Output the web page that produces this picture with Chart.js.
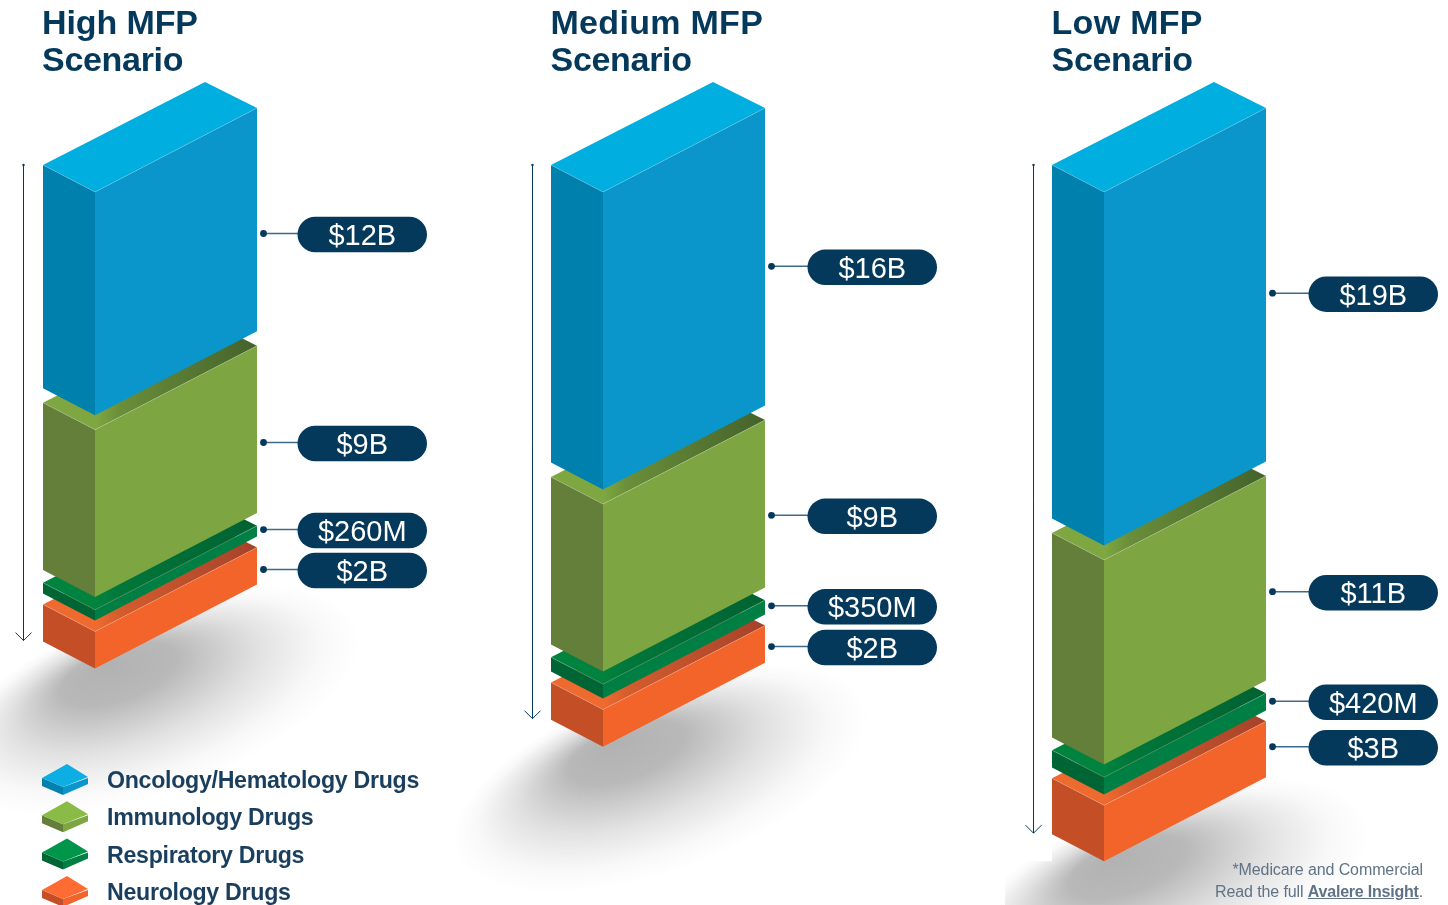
<!DOCTYPE html>
<html lang="en">
<head>
<meta charset="utf-8">
<title>MFP scenarios by drug class</title>
<script src="https://cdn.jsdelivr.net/npm/chart.js@4/dist/chart.umd.js"></script>
<style>
  html, body { margin: 0; padding: 0; background: #fff; overflow: hidden; }
  #stage { position: relative; width: 1448px; height: 905px; }
  canvas { position: absolute; left: 0; top: 0; }
  #note {
    position: absolute; right: 25px; top: 859px; text-align: right;
    font: 16px/21.5px "Liberation Sans", sans-serif; letter-spacing: -0.1px; color: #5f7386;
  }
  #note b { text-decoration: underline; letter-spacing: -0.22px; }
</style>
</head>
<body>
<div id="stage">
  <canvas id="chart" width="1448" height="905"></canvas>
  <div id="note">*Medicare and Commercial<br>Read the full <b>Avalere Insight</b>.</div>
</div>
<script>
// Spend per scenario, in $ billions
const scenarios   = ['High MFP', 'Medium MFP', 'Low MFP'];
const oncology    = [12, 16, 19];
const immunology  = [9, 9, 11];
const respiratory = [0.26, 0.35, 0.42];
const neurology   = [2, 2, 3];

// Callout text per scenario
const oncologyLabels    = ['$12B', '$16B', '$19B'];
const immunologyLabels  = ['$9B', '$9B', '$11B'];
const respiratoryLabels = ['$260M', '$350M', '$420M'];
const neurologyLabels   = ['$2B', '$2B', '$3B'];

// Layout of the blocks
const PX_PER_BILLION = 18.6;
const SIDE_W = 52, SIDE_DROP = 27, FRONT_W = 162, FRONT_RISE = 84;
const COLUMN_NUDGE = [0, 3.5, 0];      // middle column sits slightly off the even spacing
const GAP_BEFORE = [0, 0.78, 0.68, 0.59];   // air between blocks, in $B
const SLIVER_STRETCH = 41 / PX_PER_BILLION; // sub-$1B blocks would be hairlines at true scale
const CALLOUT_DROP = [[14.4, 10, 9], [13.6, 12, 14], [-1, -1, 0], [4, 3, -2]];
const PILL_GAP = [40.5, 42.5, 42.5];
const ARROW_GAP = [19.5, 18.5, 18.5];
const HEADING_SPACING = ['-0.1px', '0.3px', '0.3px'];
const HEADING_INSET = [1, 0.5, 0.5];

const NAVY = '#04395c';

// Lay the blocks out top-down: each is a floating [start, end] bar of its true value
function buildStacks(series, stretch) {
  const cursor = scenarios.map(() => 0);
  return series.map((values, s) => values.map((v, c) => {
    const start = cursor[c] + GAP_BEFORE[s];
    cursor[c] = start + v * stretch[s];
    return [start, start + v];
  }));
}
const stretchBySeries = [1, 1, SLIVER_STRETCH, 1];
const stacks = buildStacks([oncology, immunology, respiratory, neurology], stretchBySeries);

const faces = [
  { front: '#0a96cb', side: '#0080ac', top: '#00aee0', topFar: '#00aee0', chip: '#0daee3' },
  { front: '#7da642', side: '#647f39', top: '#7ea641', topFar: '#44622b', chip: '#8abb47' },
  { front: '#007f45', side: '#006535', top: '#00833f', topFar: '#006232', chip: '#00964a' },
  { front: '#f3642b', side: '#c44f27', top: '#ee6a2f', topFar: '#a5422a', chip: '#ff6c33' }
];

function poly(ctx, pts, fill) {
  ctx.beginPath();
  pts.forEach((p, i) => i ? ctx.lineTo(p[0], p[1]) : ctx.moveTo(p[0], p[1]));
  ctx.closePath();
  ctx.fillStyle = fill;
  ctx.fill();
}

function mix(a, b, k) {
  const n = h => [1, 3, 5].map(i => parseInt(h.substr(i, 2), 16));
  const A = n(a), B = n(b);
  return 'rgb(' + A.map((v, i) => Math.round(v + (B[i] - v) * k)).join(',') + ')';
}

// Corners of one block, taken from the bar element the library laid out
function blockBox(bar, c, stretch) {
  const left = bar.x - bar.width / 2 + COLUMN_NUDGE[c];
  const t = Math.min(bar.y, bar.base);
  const b = t + Math.abs(bar.base - bar.y) * stretch;
  return { left, corner: left + SIDE_W, right: left + SIDE_W + FRONT_W, t, b };
}

class IsoBarController extends Chart.BarController {
  draw() {
    const ctx = this.chart.ctx;
    const ds = this.getDataset();
    const f = ds.faces;
    this.getMeta().data.forEach((bar, c) => {
      const { left, corner, right, t, b } = blockBox(bar, c, ds.stretch);
      const lt = t - SIDE_DROP, rt = t - FRONT_RISE;
      const grad = ctx.createLinearGradient(left, 0, right, 0);
      grad.addColorStop(0, f.top);
      grad.addColorStop(0.25, f.top);
      grad.addColorStop(0.36, mix(f.top, f.topFar, 0.35));
      grad.addColorStop(1, f.topFar);
      poly(ctx, [[left, lt], [corner, t], [right, rt], [right - SIDE_W, rt - SIDE_DROP + 1]], grad);
      poly(ctx, [[left, lt], [corner, t], [corner, b], [left, b - SIDE_DROP]], f.side);
      poly(ctx, [[corner, t], [right, rt], [right, b - FRONT_RISE], [corner, b]], f.front);
      ctx.beginPath();
      ctx.moveTo(left, lt); ctx.lineTo(corner, t); ctx.lineTo(right, rt);
      ctx.strokeStyle = 'rgba(255,255,255,0.22)';
      ctx.lineWidth = 0.8;
      ctx.stroke();
    });
  }
}
IsoBarController.id = 'isoBar';
IsoBarController.defaults = { dataElementType: 'bar' };
Chart.register(IsoBarController);

// Soft ground shadow under each stack, then the down arrow beside it
const groundPlugin = {
  id: 'ground',
  beforeDatasetsDraw(chart) {
    const ctx = chart.ctx;
    const bottoms = chart.getDatasetMeta(3).data;
    bottoms.forEach((bar, c) => {
      const box = blockBox(bar, c, 1);
      ctx.save();
      if (c === 2) {
        // the last shadow starts at the base line left of its stack
        ctx.beginPath();
        ctx.rect(box.left - 47, box.b, 1448, 100);
        ctx.rect(box.left, 0, 1448, 905);
        ctx.clip();
      }
      ctx.translate(box.corner + 58, box.b + 32);
      ctx.rotate(-20 * Math.PI / 180);
      ctx.scale(218, 92);
      const g = ctx.createRadialGradient(-0.15, -0.55, 0, 0, 0, 1);
      g.addColorStop(0, 'rgba(70,70,70,0.42)');
      g.addColorStop(0.28, 'rgba(70,70,70,0.38)');
      g.addColorStop(0.6, 'rgba(80,80,80,0.17)');
      g.addColorStop(0.85, 'rgba(90,90,90,0.04)');
      g.addColorStop(1, 'rgba(90,90,90,0)');
      ctx.fillStyle = g;
      ctx.beginPath();
      ctx.arc(0, 0, 1, 0, Math.PI * 2);
      ctx.fill();
      ctx.restore();

      // depth arrow, from the top of the stack to its base
      const top = chart.scales.y.getPixelForValue(0) - SIDE_DROP;
      const ax = box.left - ARROW_GAP[c], ay = box.b - SIDE_DROP - 1;
      ctx.save();
      ctx.strokeStyle = NAVY;
      ctx.lineWidth = 1;
      ctx.beginPath();
      ctx.moveTo(ax, top); ctx.lineTo(ax, ay);
      ctx.moveTo(ax - 8, ay - 8); ctx.lineTo(ax, ay); ctx.lineTo(ax + 8, ay - 8);
      ctx.stroke();
      ctx.fillStyle = NAVY;
      ctx.beginPath(); ctx.arc(ax, top, 1.2, 0, Math.PI * 2); ctx.fill();
      ctx.restore();
    });
  }
};

// Scenario headings, value callouts and the key
const annotationPlugin = {
  id: 'annotations',
  afterDatasetsDraw(chart) {
    const ctx = chart.ctx;
    ctx.save();
    ctx.textBaseline = 'alphabetic';

    scenarios.forEach((name, c) => {
      const box = blockBox(chart.getDatasetMeta(0).data[c], c, 1);
      ctx.fillStyle = NAVY;
      ctx.font = 'bold 34px "Liberation Sans", sans-serif';
      ctx.textAlign = 'left';
      ctx.letterSpacing = HEADING_SPACING[c];
      ctx.fillText(name, box.left - HEADING_INSET[c], 34);
      ctx.letterSpacing = '-0.3px';
      ctx.fillText('Scenario', box.left - HEADING_INSET[c], 71);
      ctx.letterSpacing = '0px';
    });

    chart.data.datasets.forEach((ds, s) => {
      chart.getDatasetMeta(s).data.forEach((bar, c) => {
        const box = blockBox(bar, c, ds.stretch);
        const cy = (box.t + box.b) / 2 - FRONT_RISE + CALLOUT_DROP[s][c];
        const pillX = box.right + PILL_GAP[c], pillW = 129.5, pillH = 35.5;
        const pillY = cy + 0.5;
        ctx.strokeStyle = '#3d6a8a';
        ctx.lineWidth = 1.5;
        ctx.beginPath();
        ctx.moveTo(box.right + 6, cy - 0.5);
        ctx.lineTo(pillX + 2, cy - 0.5);
        ctx.stroke();
        ctx.fillStyle = NAVY;
        ctx.beginPath();
        ctx.arc(box.right + 6.5, cy - 0.5, 3.4, 0, Math.PI * 2);
        ctx.fill();
        ctx.beginPath();
        ctx.roundRect(pillX, pillY - pillH / 2, pillW, pillH, pillH / 2);
        ctx.fill();
        ctx.fillStyle = '#fff';
        ctx.font = '29px "Liberation Sans", sans-serif';
        ctx.textAlign = 'center';
        ctx.fillText(ds.callouts[c], pillX + pillW / 2, cy + 11);
      });
    });

    // key in the lower left corner
    chart.data.datasets.forEach((ds, s) => {
      const y0 = 764 + s * 37.3, f = ds.faces;
      poly(ctx, [[42, y0 + 14], [63, y0 + 23], [63, y0 + 31], [42, y0 + 22]], f.side);
      poly(ctx, [[63, y0 + 23], [88, y0 + 14], [88, y0 + 20], [63, y0 + 31]], f.front);
      poly(ctx, [[42, y0 + 14], [67, y0], [88, y0 + 13], [63, y0 + 23]], f.chip);
      ctx.fillStyle = '#1a3f5e';
      ctx.font = 'bold 23.2px "Liberation Sans", sans-serif';
      ctx.letterSpacing = '-0.3px';
      ctx.textAlign = 'left';
      ctx.fillText(ds.label, 107, y0 + 24);
      ctx.letterSpacing = '0px';
    });
    ctx.restore();
  }
};

const seriesNames = ['Oncology/Hematology Drugs', 'Immunology Drugs', 'Respiratory Drugs', 'Neurology Drugs'];
const seriesLabels = [oncologyLabels, immunologyLabels, respiratoryLabels, neurologyLabels];

new Chart(document.getElementById('chart'), {
  type: 'isoBar',
  data: {
    labels: scenarios,
    datasets: seriesNames.map((label, s) => ({
      label,
      data: stacks[s],
      faces: faces[s],
      stretch: stretchBySeries[s],
      callouts: seriesLabels[s],
      backgroundColor: faces[s].front,
      grouped: false,
      barThickness: SIDE_W + FRONT_W,
      clip: false
    }))
  },
  plugins: [groundPlugin, annotationPlugin],
  options: {
    responsive: false,
    animation: false,
    layout: { padding: { left: 150, right: 289, top: 192, bottom: 0 } },
    plugins: { legend: { display: false }, tooltip: { enabled: false } },
    scales: {
      x: { type: 'category', offset: false, display: false },
      y: { type: 'linear', reverse: true, min: 0, max: 713 / PX_PER_BILLION, display: false }
    }
  }
});
</script>
</body>
</html>
